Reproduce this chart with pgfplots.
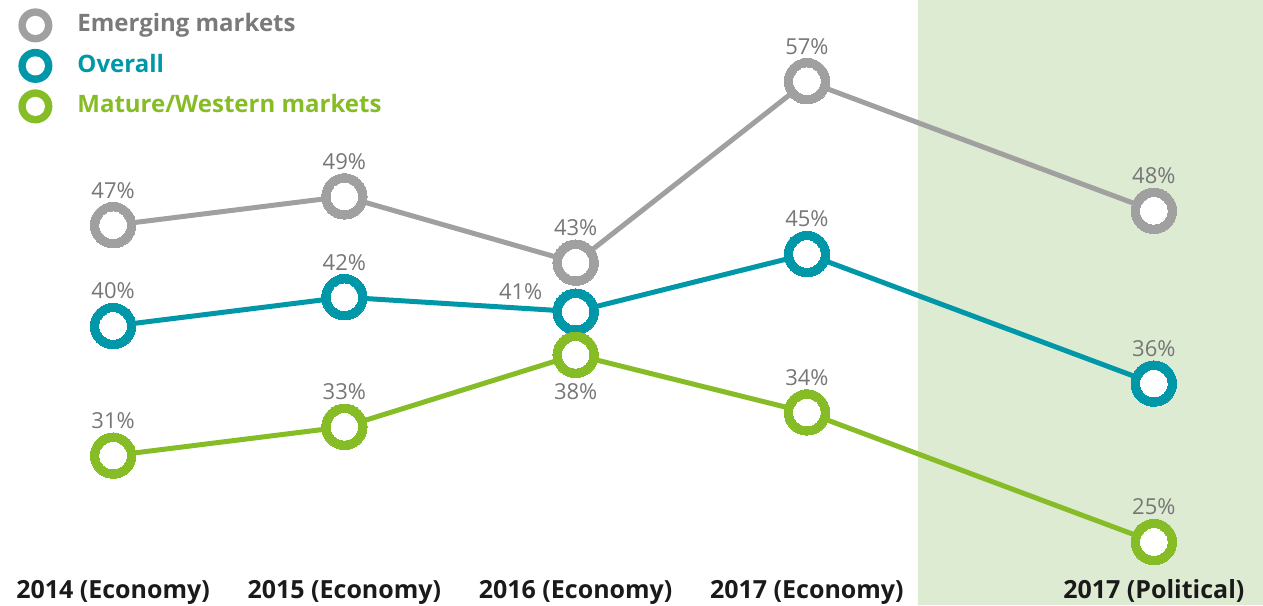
\documentclass[border=0pt]{standalone}
\usepackage{pgfplots}
\pgfplotsset{compat=1.18}
\usepackage{pgfplotstable}
\usepackage{fontspec}
\setmainfont{Open Sans}

\definecolor{emerg}{HTML}{A0A0A0}
\definecolor{overall}{HTML}{0097A9}
\definecolor{mature}{HTML}{86BC25}
\definecolor{band}{HTML}{DDEBD3}
\definecolor{lbl}{HTML}{767676}
\definecolor{legemerg}{HTML}{7A7A7A}
\definecolor{cat}{HTML}{1A1A1A}

% x: survey wave, y: share (%), lab: printed value, dx/dy: label offset (pt)
\pgfplotstableread{
x   y    lab dx    dy
0   47   47  0     17.5
1   49   49  0     17.5
2   44.4 43  0     17.5
3   57   57  0     17.5
4.5 48   48  0     17.5
}\emerging
\pgfplotstableread{
x   y    lab dx    dy
0   40   40  0     17.5
1   42   42  0     17.5
2   41   41  -27.5 10
3   45   45  0     17.5
4.5 36   36  0     17.5
}\overall
\pgfplotstableread{
x   y    lab dx    dy
0   31   31  0     17.5
1   33   33  0     17.5
2   38   38  0     -18.5
3   34   34  0     17.5
4.5 25   25  0     17.5
}\mature

\pgfplotsset{
  series/.style={
    color=#1, line width=2.5pt,
    mark=*, mark size=11.35pt,
    mark options={fill=#1, draw=#1, line width=0pt},
  },
  holes/.style={
    only marks, forget plot, color=white, mark=*, mark size=6.65pt,
    mark options={fill=white, draw=white, line width=0pt},
  },
  labels/.style={
    draw=none, mark=none, forget plot,
    nodes near coords={\pgfplotspointmeta\%},
    point meta=explicit symbolic,
    visualization depends on={\thisrow{dx} \as \dx},
    visualization depends on={\thisrow{dy} \as \dy},
    nodes near coords style={anchor=center, xshift=\dx pt, yshift=\dy pt,
      text=lbl, font=\fontsize{11}{13}\selectfont},
  },
}

\begin{document}
\begin{tikzpicture}
\begin{axis}[
    set layers,
    width=631.5pt, height=302.5pt, scale only axis,
    xmin=-0.489, xmax=4.972, ymin=20.625, ymax=62.64,
    axis line style={draw=none}, tick style={draw=none},
    ytick=\empty,
    xtick={0,1,2,3,4.5},
    xticklabels={2014 (Economy),2015 (Economy),2016 (Economy),2017 (Economy),2017 (Political)},
    xticklabel style={font=\bfseries\fontsize{12.5}{14}\selectfont, text=cat,
      anchor=base, yshift=3.5pt},
    clip=false,
    legend style={at={(axis description cs:0,1)}, anchor=north west,
      draw=none, fill=none, inner sep=0pt, row sep=3.25pt,
      xshift=9pt, yshift=-4pt,
      font=\bfseries\fontsize{12}{14}\selectfont,
      nodes={inner sep=0pt, text height=9pt, text depth=2.5pt},
      /tikz/every odd column/.append style={column sep=12.5pt}},
    legend cell align=left,
    legend image code/.code={
      \fill (7.3pt,0pt) circle (7.25pt);
      \fill[white] (7.3pt,0pt) circle (3.5pt);},
  ]
  \path (rel axis cs:0,0) coordinate (bl) (rel axis cs:1,1) coordinate (tr);

  % shaded "political" column
  \addplot[fill=band, draw=none, forget plot, on layer=axis background]
    coordinates {(3.48,20.625) (4.972,20.625) (4.972,62.64) (3.48,62.64)} \closedcycle;

  \addplot[series=emerg] table[x=x, y=y] {\emerging};
  \addlegendentry{\textcolor{legemerg}{Emerging markets}}
  \addplot[series=overall] table[x=x, y=y] {\overall};
  \addlegendentry{\textcolor{overall}{Overall}}
  \addplot[series=mature] table[x=x, y=y] {\mature};
  \addlegendentry{\textcolor{mature}{Mature/Western markets}}

  \addplot[holes] table[x=x, y=y] {\emerging};
  \addplot[holes] table[x=x, y=y] {\overall};
  \addplot[holes] table[x=x, y=y] {\mature};

  \addplot[labels] table[x=x, y=y, meta=lab] {\emerging};
  \addplot[labels] table[x=x, y=y, meta=lab] {\overall};
  \addplot[labels] table[x=x, y=y, meta=lab] {\mature};
\end{axis}
\pgfresetboundingbox
\useasboundingbox (bl) rectangle (tr);
\end{tikzpicture}
\end{document}
